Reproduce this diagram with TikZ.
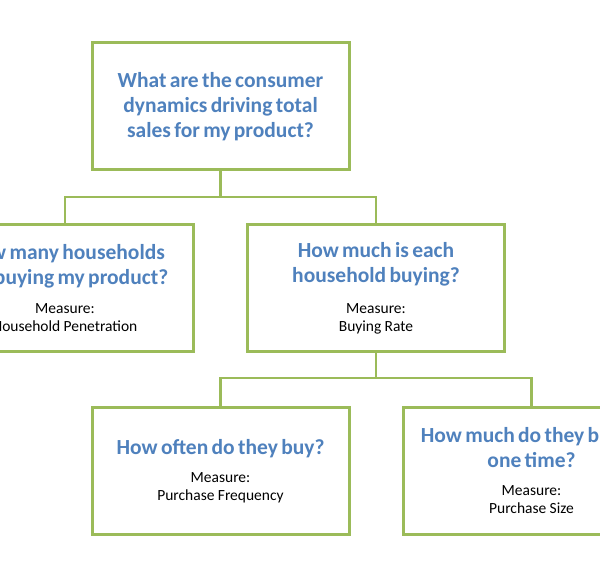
\documentclass[tikz,border=0pt]{standalone}
\usepackage{fontspec}
\setmainfont{Carlito}
\definecolor{qblue}{HTML}{4F81BD}
\definecolor{boxgreen}{HTML}{9BBB59}
\newcommand{\qtext}[1]{{\fontsize{21.5}{25}\selectfont\bfseries\color{qblue}#1\par}}
\newcommand{\mtext}[1]{{\fontsize{15.5}{18}\selectfont #1\par}}
\tikzset{
  box/.style={draw=boxgreen, line width=3pt, minimum width=257pt, minimum height=127pt,
    text width=250pt, align=center, inner sep=0pt},
  link/.style={draw=boxgreen, line width=2.5pt}
}

\begin{document}
\begin{tikzpicture}[x=1pt,y=-1pt]
\useasboundingbox (0,0) rectangle (600,569);
\fill[white] (0,0) rectangle (600,569);
\clip (0,0) rectangle (600,569);

\node[box] (Q) at (220.5,106.5) {\qtext{What are the consumer\\dynamics driving total\\sales for my product?}};
\node[box] (H) at (65,288.5) {\qtext{How many households\\are buying my product?}\vspace{11pt}\mtext{Measure:\\Household Penetration}};
\node[box] (B) at (376,288.5) {\qtext{How much is each\\household buying?}\vspace{13pt}\mtext{Measure:\\Buying Rate}};
\node[box] (F) at (220.5,471) {\qtext{How often do they buy?}\vspace{10pt}\mtext{Measure:\\Purchase Frequency}};
\node[box] (S) at (531.5,471) {\qtext{How much do they buy at\\one time?}\vspace{10pt}\mtext{Measure:\\Purchase Size}};

\coordinate (J1) at (220.5,197);
\coordinate (J2) at (376,378);

\draw[link] (Q.south) -- (J1) -| (H.north);
\draw[link] (J1) -| (B.north);
\draw[link] (B.south) -- (J2) -| (F.north);
\draw[link] (J2) -| (S.north);
\end{tikzpicture}
\end{document}
